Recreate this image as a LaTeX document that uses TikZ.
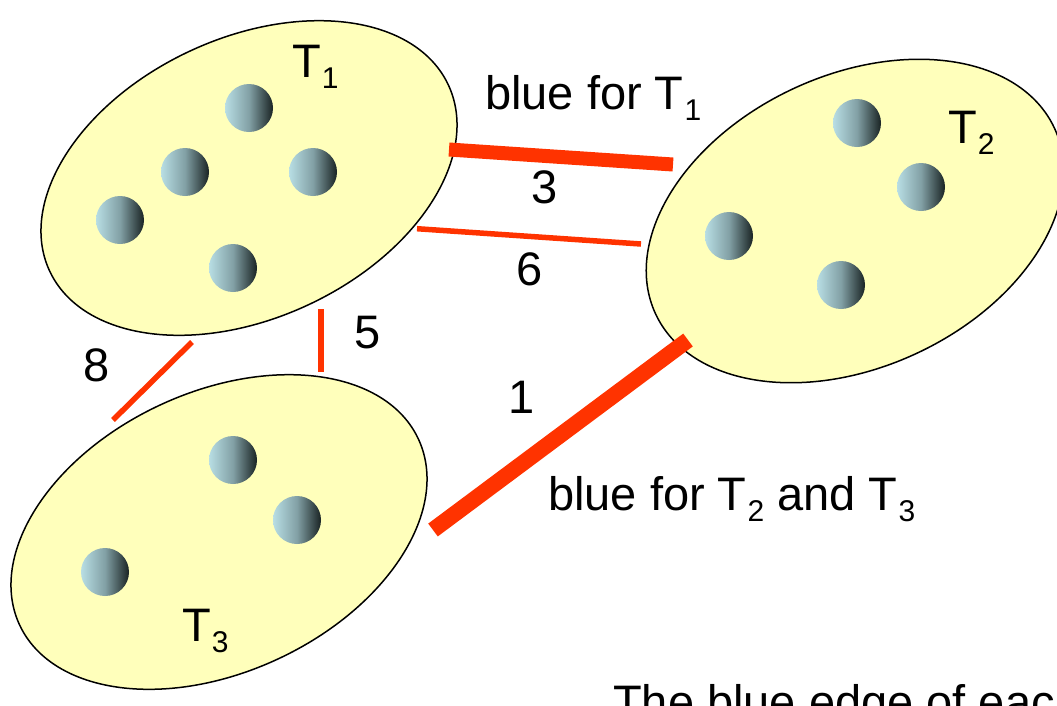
\documentclass[tikz,border=0pt]{standalone}
\usepackage{fontspec}
\setmainfont{Liberation Sans}
\usetikzlibrary{shapes.geometric}
\definecolor{treefill}{HTML}{FFFFBB}
\definecolor{edgered}{HTML}{FF3300}
\definecolor{ballL}{RGB}{184,222,228}
\definecolor{ballM}{RGB}{130,160,165}
\definecolor{ballR}{RGB}{25,35,35}
\newcommand{\sbs}[1]{\hspace{1pt}\raisebox{-11pt}{\fontsize{30}{30}\selectfont #1}}
\tikzset{
  tree/.style={ellipse, draw=black, line width=1.5pt, fill=treefill, inner sep=0pt,
    minimum width=440pt, minimum height=280pt, rotate=25},
  ball/.style={circle, inner sep=0pt, minimum size=48pt, shading=axis,
    left color=ballL, right color=ballR, middle color=ballM},
  thick edge/.style={draw=edgered, line width=14pt},
  thin edge/.style={draw=edgered, line width=5.5pt},
  lbl/.style={inner sep=0pt, anchor=base},
  lblw/.style={inner sep=0pt, anchor=base west}
}
\begin{document}
\begin{tikzpicture}[x=1pt, y=-1pt, font=\fontsize{47}{56}\selectfont]
\useasboundingbox (0,0) rectangle (1057,705);
\clip (0,0) rectangle (1057,705);
% trees
\node[tree] (t1) at (249,178) {};
\node[tree, minimum height=292pt] (t2) at (855,221) {};
\node[tree] (t3) at (219,532) {};
% balls
\node[ball] (a1) at (249,108) {};
\node[ball] (a2) at (185,172) {};
\node[ball] (a3) at (313,172) {};
\node[ball] (a4) at (120,220) {};
\node[ball] (a5) at (233,268) {};
\node[ball] (b1) at (857,123) {};
\node[ball] (b2) at (921,187) {};
\node[ball] (b3) at (729,236) {};
\node[ball] (b4) at (841,285) {};
\node[ball] (c1) at (233,460) {};
\node[ball] (c2) at (297,520) {};
\node[ball] (c3) at (105,572) {};
% edge end points
\coordinate (e3a) at (449,149.5);
\coordinate (e3b) at (673,164.5);
\coordinate (e6a) at (417,228.7);
\coordinate (e6b) at (641,244);
\coordinate (e5a) at (321,309);
\coordinate (e5b) at (321,372);
\coordinate (e8a) at (192,342);
\coordinate (e8b) at (113,420);
\coordinate (e1a) at (433,530);
\coordinate (e1b) at (688,340);
\draw[thick edge] (e3a) -- (e3b);
\draw[thin edge] (e6a) -- (e6b);
\draw[thin edge] (e5a) -- (e5b);
\draw[thin edge] (e8a) -- (e8b);
\draw[thick edge, line width=16pt] (e1a) -- (e1b);
% labels
\node[lblw] (l1) at (292,77) {T\sbs{1}};
\node[lblw] (l2) at (948,143) {T\sbs{2}};
\node[lblw] (l3) at (182,641) {T\sbs{3}};
\node[lblw] (bt1) at (485,109) {blue for T\sbs{1}};
\node[lblw] (bt23) at (548,510) {blue for T\sbs{2} and T\sbs{3}};
\node[lbl] (w3) at (545,203) {3};
\node[lbl] (w6) at (530,285) {6};
\node[lbl] (w5) at (368,348) {5};
\node[lbl] (w8) at (97,381) {8};
\node[lbl] (w1) at (522,413) {1};
\node[lblw] (cap) at (613,718) {The blue edge of each};
\end{tikzpicture}
\end{document}
